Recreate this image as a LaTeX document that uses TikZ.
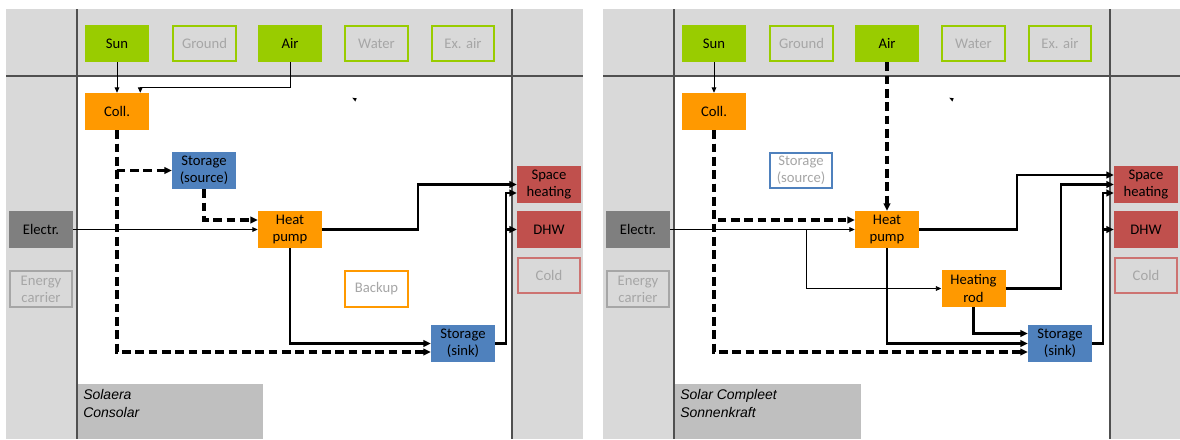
\documentclass[tikz,border=0pt]{standalone}
\usepackage{fontspec}
\setmainfont{Carlito}
\newfontfamily\tagfont{Liberation Sans}
\usetikzlibrary{arrows.meta,calc}

\definecolor{srcgreen}{RGB}{153,204,0}
\definecolor{convorange}{RGB}{255,153,0}
\definecolor{storeblue}{RGB}{79,129,189}
\definecolor{sinkred}{RGB}{192,80,77}
\definecolor{framegray}{RGB}{217,217,217}
\definecolor{taggray}{RGB}{191,191,191}
\definecolor{carriergray}{RGB}{127,127,127}
\definecolor{offtext}{RGB}{166,166,166}
\definecolor{divider}{RGB}{80,80,80}

\tikzset{
  box/.style={minimum width=48pt, minimum height=27.75pt, inner sep=0pt, align=center,
    font=\fontsize{11}{12.8}\selectfont},
  boxon/.style={box, fill=#1},
  boxoff/.style={box, draw=#1, line width=1.3pt, text=offtext, minimum width=47pt, minimum height=26.75pt},
  tagtext/.style={anchor=north west, inner sep=0pt, align=left,
    font=\tagfont\itshape\fontsize{10.5}{13.5}\selectfont},
  thinline/.style={line width=0.6pt, -{Triangle[length=4pt,width=3.5pt]}},
  heatline/.style={line width=1.8pt, -{Triangle[length=5.5pt,width=5pt]}},
  dashline/.style={heatline, line width=2.3pt, dash pattern=on 6.5pt off 3.5pt},
}

\begin{document}
\begin{tikzpicture}[x=0.75pt,y=0.75pt,yscale=-1,xscale=1]
  \useasboundingbox (0,0) rectangle (1180,439);

  %Frame: left panel
  \fill[framegray] (6,9) rectangle (583,439);
  \fill[white] (77,76) rectangle (512,439);
  \fill[taggray] (77,384) rectangle (263,439);
  \draw[divider, line width=1pt] (6,76) -- (583,76) (77,9) -- (77,439) (512,9) -- (512,439);
  \node[tagtext] (tagA) at (83,389) {Solaera\\Consolar};

  %Frame: right panel
  \fill[framegray] (603,9) rectangle (1180,439);
  \fill[white] (674,76) rectangle (1110,439);
  \fill[taggray] (674,384) rectangle (861,439);
  \draw[divider, line width=1pt] (603,76) -- (1180,76) (674,9) -- (674,439) (1110,9) -- (1110,439);
  \node[tagtext] (tagB) at (680,389) {Solar Compleet\\Sonnenkraft};

  % Nodes: left panel
  \node[boxon=srcgreen] (sunA) at (117,43.5) {Sun};
  \node[boxoff=srcgreen] (groundA) at (204.5,43.5) {Ground};
  \node[boxon=srcgreen] (airA) at (290,43.5) {Air};
  \node[boxoff=srcgreen] (waterA) at (376.5,43.5) {Water};
  \node[boxoff=srcgreen] (exairA) at (463,43.5) {Ex. air};
  \node[boxon=convorange] (collA) at (117,111.5) {Coll.};
  \node[boxon=storeblue] (srcA) at (204,170.5) {Storage\\(source)};
  \node[boxon=carriergray] (elecA) at (41,229.5) {Electr.};
  \node[boxoff=offtext] (carrierA) at (41,289) {Energy\\carrier};
  \node[boxon=convorange] (hpA) at (290,229.5) {Heat\\pump};
  \node[boxoff=convorange] (backupA) at (376.5,289) {Backup};
  \node[boxon=storeblue] (sinkA) at (463,343.5) {Storage\\(sink)};
  \node[boxon=sinkred] (shA) at (549,184.5) {Space\\heating};
  \node[boxon=sinkred] (dhwA) at (549,229.5) {DHW};
  \node[boxoff=sinkred!80] (coldA) at (549,275.5) {Cold};

  % Nodes: right panel
  \node[boxon=srcgreen] (sunB) at (714,43.5) {Sun};
  \node[boxoff=srcgreen] (groundB) at (801.5,43.5) {Ground};
  \node[boxon=srcgreen] (airB) at (887,43.5) {Air};
  \node[boxoff=srcgreen] (waterB) at (973.5,43.5) {Water};
  \node[boxoff=srcgreen] (exairB) at (1060,43.5) {Ex. air};
  \node[boxon=convorange] (collB) at (714,111.5) {Coll.};
  \node[boxoff=storeblue] (srcB) at (801,170.5) {Storage\\(source)};
  \node[boxon=carriergray] (elecB) at (638,229.5) {Electr.};
  \node[boxoff=offtext] (carrierB) at (638,289) {Energy\\carrier};
  \node[boxon=convorange] (hpB) at (887,229.5) {Heat\\pump};
  \node[boxon=convorange] (rodB) at (973.5,288.5) {Heating\\rod};
  \node[boxon=storeblue] (sinkB) at (1060,343.5) {Storage\\(sink)};
  \node[boxon=sinkred] (shB) at (1146,184.5) {Space\\heating};
  \node[boxon=sinkred] (dhwB) at (1146,229.5) {DHW};
  \node[boxoff=sinkred!80] (coldB) at (1146,275.5) {Cold};

  % Connectors: left panel
  \draw[thinline] (sunA) -- (collA);
  \draw[thinline] (airA.south) -- ++(0,25) -| ([xshift=-6.75pt]collA.north east);
  \draw[dashline] (collA.south) |- ($(sinkA.west)+(0,8.5)$);
  \draw[dashline] (collA.south) |- (srcA.west);
  \draw[dashline] (srcA.south) |- ($(hpA.west)+(0,-9.5)$);
  \draw[thinline] (elecA) -- (hpA);
  \draw[heatline] (hpA.east) -- ++(96,0) |- (shA.west);
  \draw[heatline] (hpA.south) |- (sinkA.west);
  \draw[heatline] (sinkA.east) -- ++(11,0) |- ($(shA.west)+(0,8.5)$);
  \draw[heatline] (sinkA.east) -- ++(11,0) |- (dhwA.west);
  \fill (352.3,97.7) -- (356.7,98.3) -- (355.3,101.5) -- cycle;

  % Connectors: right panel
  \draw[thinline] (sunB) -- (collB);
  \draw[dashline] (airB) -- (hpB);
  \draw[dashline] (collB.south) |- ($(sinkB.west)+(0,8.5)$);
  \draw[dashline] (collB.south) |- ($(hpB.west)+(0,-9.5)$);
  \draw[thinline] (elecB) -- (hpB);
  \draw[thinline] ($(hpB.west)+(-48,0)$) |- (rodB.west);
  \draw[heatline] (hpB.east) -- ++(98,0) |- ($(shB.west)+(0,-9.5)$);
  \draw[heatline] (rodB.east) -- ++(55,0) |- (shB.west);
  \draw[heatline] (hpB.south) |- (sinkB.west);
  \draw[heatline] (rodB.south) |- ($(sinkB.west)+(0,-10)$);
  \draw[heatline] (sinkB.east) -- ++(11,0) |- ($(shB.west)+(0,8.5)$);
  \draw[heatline] (sinkB.east) -- ++(11,0) |- (dhwB.west);
  \fill (949.3,97.7) -- (953.7,98.3) -- (952.3,101.5) -- cycle;

\end{tikzpicture}
\end{document}
